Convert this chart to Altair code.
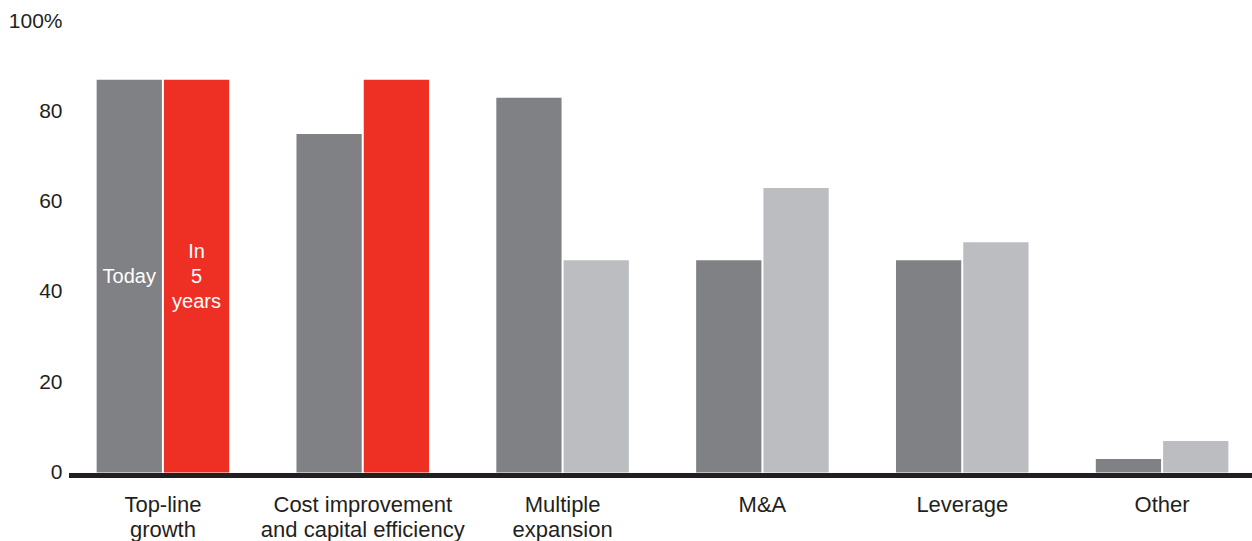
import altair as alt
import pandas as pd

# Levers of value creation, share of respondents (%)
categories = [
    "Top-line\ngrowth",
    "Cost improvement\nand capital efficiency",
    "Multiple\nexpansion",
    "M&A",
    "Leverage",
    "Other",
]
today = [87, 75, 83, 47, 47, 3]
in_five_years = [87, 87, 47, 63, 51, 7]
# The two leading levers are highlighted for the future period
highlighted = [True, True, False, False, False, False]

series_order = ["Today", "In 5 years"]

rows = []
for cat, t, f, hi in zip(categories, today, in_five_years, highlighted):
    rows.append({"lever": cat, "period": "Today", "share": t, "tone": "today"})
    rows.append({"lever": cat, "period": "In 5 years", "share": f,
                 "tone": "future_hi" if hi else "future"})
bars_df = pd.DataFrame(rows)

# In-bar series labels on the first group (pos = first text line)
label_df = pd.DataFrame({
    "lever": [categories[0], categories[0]],
    "period": ["Today", "In 5 years"],
    "pos": [43.3, 48.8],
    "text": ["Today", "In\n5\nyears"],
})

base_df = pd.DataFrame({"v": [0]})

FONT = "Liberation Sans"
INK = "#231F20"

x_enc = alt.X(
    "lever:N",
    sort=categories,
    scale=alt.Scale(range=[0, 1199], paddingInner=0, paddingOuter=0),
    axis=alt.Axis(
        title=None,
        domain=False,
        ticks=False,
        tickSize=0,
        labelAngle=0,
        labelPadding=22,
        labelFontSize=22,
        labelFont=FONT,
        labelColor=INK,
        labelLineHeight=25,
        labelLimit=400,
        labelExpr="split(datum.label, '\\n')",
    ),
)
xoff_enc = alt.XOffset(
    "period:N",
    sort=series_order,
    scale=alt.Scale(domain=series_order, paddingInner=0.03, paddingOuter=0.5),
)
y_scale = alt.Scale(domain=[0, 100], nice=False)

bars = alt.Chart(bars_df).mark_bar(cornerRadius=0).encode(
    x=x_enc,
    xOffset=xoff_enc,
    y=alt.Y(
        "share:Q",
        scale=y_scale,
        axis=alt.Axis(
            title=None,
            values=[0, 20, 40, 60, 80, 100],
            grid=False,
            domain=False,
            ticks=False,
            tickSize=0,
            labelPadding=1,
            labelFontSize=21,
            labelFont=FONT,
            labelColor=INK,
            labelExpr="datum.value == 100 ? '100%' : datum.label",
        ),
    ),
    color=alt.Color(
        "tone:N",
        scale=alt.Scale(
            domain=["today", "future_hi", "future"],
            range=["#808185", "#EE2F24", "#BCBDC0"],
        ),
        legend=None,
    ),
)

baseline = alt.Chart(base_df).mark_rule(
    color=INK, strokeWidth=5, yOffset=3
).encode(
    y=alt.Y("v:Q", scale=y_scale),
    x=alt.value(6),
    x2=alt.value(1189),
)

labels = alt.Chart(label_df).mark_text(
    color="white",
    fontSize=20,
    font=FONT,
    lineBreak="\n",
    lineHeight=25,
    align="center",
    baseline="middle",
).encode(
    x=alt.X("lever:N", sort=categories),
    xOffset=alt.XOffset("period:N", sort=series_order),
    y=alt.Y("pos:Q", scale=y_scale),
    text="text:N",
)

chart = (
    alt.layer(bars, baseline, labels)
    .properties(
        width=1189,
        height=451.5,
        autosize=alt.AutoSizeParams(type="none"),
        padding={"left": 63, "top": 21, "right": 0, "bottom": 68},
        background="white",
    )
    .configure_view(stroke=None)
)

chart.save("out.html", embed_options={"renderer": "svg", "actions": False})
